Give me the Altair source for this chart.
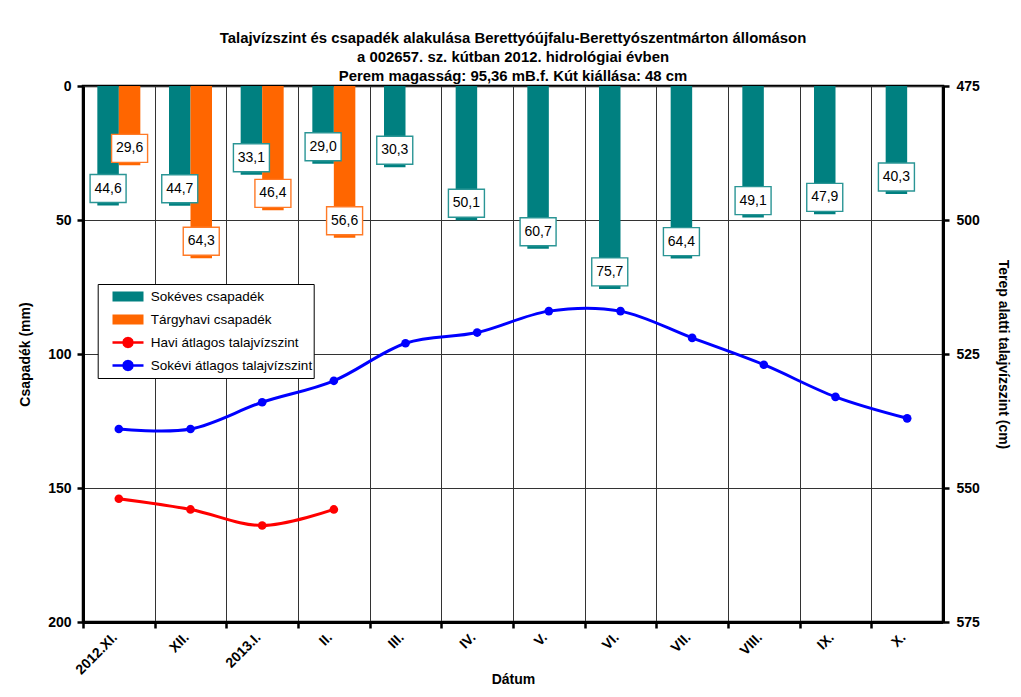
import altair as alt
import pandas as pd

FONT = "Liberation Sans"

months = ["2012.XI.", "XII.", "2013.I.", "II.", "III.", "IV.", "V.", "VI.", "VII.", "VIII.", "IX.", "X."]
sokeves_csapadek = [44.6, 44.7, 33.1, 29.0, 30.3, 50.1, 60.7, 75.7, 64.4, 49.1, 47.9, 40.3]
targyhavi_csapadek = [29.6, 64.3, 46.4, 56.6]
havi_talajvizszint = [552, 554, 557, 554]
sokevi_talajvizszint = [539, 539, 534, 530, 523, 521, 517, 517, 522, 527, 533, 537]

series_names = ["Sokéves csapadék", "Tárgyhavi csapadék",
                "Havi átlagos talajvízszint", "Sokévi átlagos talajvízszint"]
series_colors = ["#008080", "#FF6600", "#FF0000", "#0000FF"]
label_border_colors = ["#2a9595", "#ff7a26"]

title_lines = ["Talajvízszint és csapadék alakulása Berettyóújfalu-Berettyószentmárton állomáson",
               "a 002657. sz. kútban 2012. hidrológiai évben",
               "Perem magasság: 95,36 mB.f. Kút kiállása: 48 cm"]

# ---- tables built from the arrays above ----
bar_rows = []
for m, v in zip(months, sokeves_csapadek):
    bar_rows.append({"month": m, "series": series_names[0], "value": v})
for m, v in zip(months, targyhavi_csapadek):
    bar_rows.append({"month": m, "series": series_names[1], "value": v})
bar_df = pd.DataFrame(bar_rows)

line_rows = []
for m, v in zip(months, havi_talajvizszint):
    line_rows.append({"month": m, "series": series_names[2], "level": v})
for m, v in zip(months, sokevi_talajvizszint):
    line_rows.append({"month": m, "series": series_names[3], "level": v})
line_df = pd.DataFrame(line_rows)

W, H = 860, 536
STEP = W / 12.0

x_enc = alt.X(
    "month:N", sort=months,
    scale=alt.Scale(domain=months, paddingInner=0.4, paddingOuter=0.2),
    axis=alt.Axis(title="Dátum", labelAngle=-45, grid=True, bandPosition=0.5,
                  tickOffset=-STEP / 2, labelOffset=STEP / 2 - 9, labelPadding=2,
                  titlePadding=-4),
)
xoff_enc = alt.XOffset("series:N",
                       scale=alt.Scale(domain=series_names[:2], paddingInner=0, paddingOuter=0))
y_left = alt.Y(
    "value:Q",
    scale=alt.Scale(domain=[0, 200], reverse=True, nice=False),
    axis=alt.Axis(title="Csapadék (mm)", values=[0, 50, 100, 150, 200], grid=True,
                  titlePadding=15, labelPadding=6),
)

BOX = "M-1.286,-1H1.286V1H-1.286Z"
# legend glyphs (unit = 10 px); zero-length segments fix the row height
ROW = "M0,-0.6L0,-0.6M0,0.6L0,0.6"
RECT = "M-1.425,-0.375H1.425V0.375H-1.425Z"
DOT = ("M0.45,0L0.39,0.225L0.225,0.39L0,0.45L-0.225,0.39L-0.39,0.225L-0.45,0"
       "L-0.39,-0.225L-0.225,-0.39L0,-0.45L0.225,-0.39L0.39,-0.225Z")
LINE = "M-1.55,0H1.55"
IS_BAR = "indexof(['Sokéves csapadék','Tárgyhavi csapadék'], datum.value) >= 0"
LEG_SHAPE = f"{IS_BAR} ? '{ROW}{RECT}' : '{ROW}{LINE}{DOT}'"

legend = alt.Legend(
    orient="none", legendX=14.7, legendY=198, title=None,
    symbolSize=400, padding=1, rowPadding=0, symbolOffset=17.8, labelOffset=11.3,
    labelFont=FONT, labelFontSize=13.5, labelColor="black", labelLimit=400,
    strokeColor="black", fillColor="white",
    symbolType=alt.ExprRef(LEG_SHAPE),
    symbolStrokeWidth=2.5,
    symbolStrokeColor=alt.ExprRef("scale('color', datum.value)"),
    symbolFillColor=alt.ExprRef("scale('color', datum.value)"),
    symbolOpacity=1,
)

color_enc = alt.Color("series:N",
                      scale=alt.Scale(domain=series_names, range=series_colors),
                      legend=legend)

bars = alt.Chart(bar_df).mark_bar().encode(
    x=x_enc, xOffset=xoff_enc, y=y_left, color=color_enc)

boxes = alt.Chart(bar_df).mark_point(
    shape=BOX, size=784, filled=True, fill="white", opacity=1, fillOpacity=1,
    strokeWidth=1.4, yOffset=-17
).encode(
    x=x_enc, xOffset=xoff_enc, y=y_left,
    stroke=alt.Stroke("series:N",
                      scale=alt.Scale(domain=series_names[:2], range=label_border_colors),
                      legend=None))

texts = alt.Chart(bar_df).transform_calculate(
    label="replace(format(datum.value, '.1f'), '.', ',')"
).mark_text(font=FONT, fontSize=14, dy=-17, color="black").encode(
    x=x_enc, xOffset=xoff_enc, y=y_left, text="label:N")

left = alt.layer(bars, boxes, texts)

y_right = alt.Y(
    "level:Q",
    scale=alt.Scale(domain=[475, 575], reverse=True, nice=False, zero=False),
    axis=alt.Axis(title="Terep alatti talajvízszint (cm)", orient="right",
                  values=[475, 500, 525, 550, 575], grid=False, titlePadding=16, labelPadding=7),
)
color_line = alt.Color("series:N", scale=alt.Scale(domain=series_names, range=series_colors),
                       legend=None)

lines = alt.Chart(line_df).mark_line(interpolate="cardinal", strokeWidth=3).encode(
    x=x_enc, y=y_right, color=color_line)
points = alt.Chart(line_df).mark_circle(size=75, opacity=1).encode(
    x=x_enc, y=y_right, color=color_line)

right = alt.layer(lines, points)

chart = alt.layer(left, right).resolve_scale(y="independent").properties(
    width=W, height=H,
    title=alt.TitleParams(text=title_lines, font=FONT, fontSize=14.9, fontWeight="bold",
                          color="black", anchor="middle", frame="group", offset=-5,
                          lineHeight=19),
    autosize=alt.AutoSizeParams(type="none"),
    padding={"left": 75, "top": 78, "right": 70, "bottom": 67},
).configure_axis(
    labelFont=FONT, titleFont=FONT, labelFontWeight="bold", titleFontWeight="bold",
    labelFontSize=14, titleFontSize=14, labelColor="black", titleColor="black",
    domainColor="black", domainWidth=3, tickColor="black", tickWidth=2.5, tickSize=6,
    gridColor="#333333", gridWidth=1, gridOpacity=1,
).configure_view(stroke="black", strokeWidth=2.5)

chart.save("out.html", embed_options={"renderer": "svg", "actions": False})
